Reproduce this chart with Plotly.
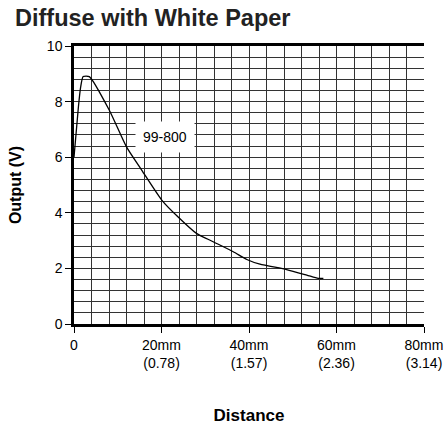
import plotly.graph_objects as go

distance_mm = [0, 1.0, 1.5, 2.1, 3.5, 8.1, 12.0, 15.5, 20.1, 23.8, 28.0, 31.8, 36.4, 39.5, 42.5, 48.6, 53.2, 55.8, 57.0]
output_v = [6.0, 7.8, 8.5, 8.9, 8.9, 7.68, 6.37, 5.53, 4.45, 3.85, 3.26, 2.96, 2.60, 2.32, 2.15, 1.96, 1.76, 1.64, 1.64]

x_tickvals = [0, 20, 40, 60, 80]
x_ticktext = ["0", "20mm<br>(0.78)", "40mm<br>(1.57)", "60mm<br>(2.36)", "80mm<br>(3.14)"]
y_tickvals = [0, 2, 4, 6, 8, 10]
series_label = "99-800"
label_pos = (20.8, 6.73)

font_main = "Liberation Sans, Arial, sans-serif"

fig = go.Figure()
fig.add_trace(go.Scatter(
    x=distance_mm, y=output_v, mode="lines",
    line=dict(color="black", width=1.3, shape="spline", smoothing=0.6),
    showlegend=False, hoverinfo="skip"))

fig.add_annotation(x=label_pos[0], y=label_pos[1], text=series_label, showarrow=False,
                   bgcolor="white", borderpad=7,
                   font=dict(family=font_main, size=14, color="black"))

grid_col = "#333333"
fig.update_xaxes(
    range=[0, 80], tickvals=x_tickvals, ticktext=x_ticktext,
    ticks="outside", ticklen=6, tickcolor="black", tickwidth=1,
    showgrid=True, gridcolor=grid_col, gridwidth=1.3,
    minor=dict(dtick=4, tick0=0, showgrid=True, gridcolor=grid_col, gridwidth=1.3),
    showline=True, linecolor="black", linewidth=2.5, mirror=True,
    zeroline=False, automargin=False,
    tickfont=dict(family=font_main, size=14, color="black"),
    title=dict(text="<b>Distance</b>", font=dict(family=font_main, size=17, color="black"), standoff=40),
)
fig.update_yaxes(
    range=[0, 10], tickvals=y_tickvals,
    ticks="outside", ticklen=6, tickcolor="black", tickwidth=1,
    showgrid=True, gridcolor=grid_col, gridwidth=1.3,
    minor=dict(dtick=0.4, tick0=0, showgrid=True, gridcolor=grid_col, gridwidth=1.3),
    showline=True, linecolor="black", linewidth=2.5,
    zeroline=False, automargin=False,
    tickfont=dict(family=font_main, size=14, color="black"),
    title=dict(text="<b>Output (V)</b>", font=dict(family=font_main, size=16, color="black"), standoff=22),
)

fig.update_layout(
    width=448, height=428,
    margin=dict(l=74, r=24, t=46, b=104),
    paper_bgcolor="white", plot_bgcolor="white",
    title=dict(text="<b>Diffuse with White Paper</b>", x=15/448, xanchor="left", xref="container",
               y=1 - 18/428, yanchor="middle", yref="container", automargin=False,
               font=dict(family=font_main, size=23.5, color="#222")),
)

fig.write_html("out.html", config={"displayModeBar": False},
               post_script="document.body.style.margin='0';document.body.style.overflow='hidden';")
